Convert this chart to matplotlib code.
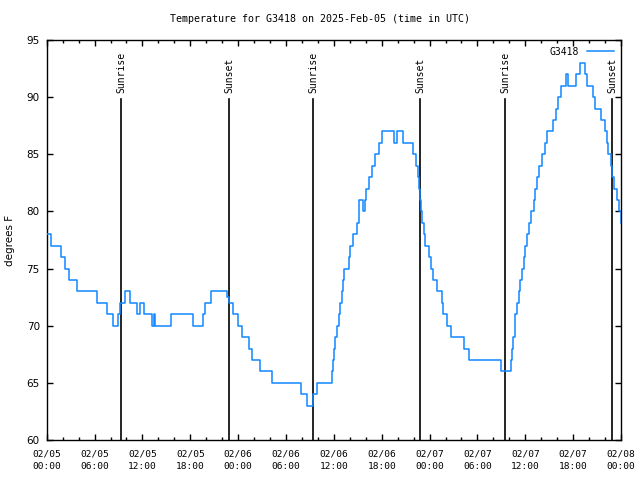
import matplotlib
matplotlib.use("Agg")
import matplotlib.pyplot as plt
from matplotlib.ticker import FixedLocator, MultipleLocator

# ---- data (hours since 2025-02-05 00:00 UTC, temperature in F) ----
hours = [0.0, 0.55, 1.75, 2.3, 2.8, 3.8, 6.3, 7.6, 8.3, 8.9, 9.25, 9.8, 10.5,
         11.3, 11.7, 12.2, 13.2, 13.4, 13.6, 15.6, 18.4, 19.6, 19.9, 20.6,
         22.6, 22.9, 23.3, 24.0, 24.5, 25.4, 25.7, 26.8, 28.2, 31.9, 32.6,
         33.4, 33.9, 35.8, 35.95, 36.05, 36.17, 36.39, 36.6, 36.8, 37.0, 37.15,
         37.3, 37.84, 38.06, 38.35, 38.9, 39.1, 39.2, 39.6, 39.85, 40.06, 40.4,
         40.8, 41.2, 41.6, 41.98, 43.6, 43.9, 44.7, 45.9, 46.3, 46.5, 46.7,
         46.84, 46.93, 47.05, 47.25, 47.46, 47.88, 48.2, 48.4, 48.9, 49.5,
         49.7, 50.2, 50.7, 52.3, 52.9, 57.0, 58.25, 58.35, 58.5, 58.65, 58.76,
         58.97, 59.17, 59.4, 59.6, 59.8, 60.0, 60.2, 60.5, 60.77, 61.05, 61.27,
         61.5, 61.7, 62.1, 62.5, 62.7, 63.5, 63.9, 64.1, 64.5, 65.15, 65.4,
         66.3, 66.8, 67.45, 67.75, 68.46, 68.8, 69.55, 70.05, 70.2, 70.4, 70.7,
         70.9, 71.15, 71.5, 71.8, 72.0]
temps = [78, 77, 76, 75, 74, 73, 72, 71, 70, 71, 72, 73, 72,
         71, 72, 71, 70, 71, 70, 71, 70, 71, 72, 73,
         72.5, 72, 71, 70, 69, 68, 67, 66, 65, 64, 63,
         64, 65, 66, 67, 68, 69, 70, 71, 72, 73, 74,
         75, 76, 77, 78, 79, 80, 81, 80, 81, 82, 83,
         84, 85, 86, 87, 86, 87, 86, 85, 84, 83, 82,
         81, 80, 79, 78, 77, 76, 75, 74, 73, 72,
         71, 70, 69, 68, 67, 66, 67, 68, 69, 70, 71,
         72, 73, 74, 75, 76, 77, 78, 79, 80, 81, 82,
         83, 84, 85, 86, 87, 88, 89, 90, 91, 92, 91,
         92, 93, 92, 91, 90, 89, 88, 87, 86, 85, 84,
         83, 82, 81, 80, 79]

sunrise_hours = [9.33, 33.42, 57.5]
sunset_hours = [22.9, 46.85, 70.9]

xtick_hours = [0, 6, 12, 18, 24, 30, 36, 42, 48, 54, 60, 66, 72]
xtick_labels = ["02/05\n00:00", "02/05\n06:00", "02/05\n12:00", "02/05\n18:00",
                "02/06\n00:00", "02/06\n06:00", "02/06\n12:00", "02/06\n18:00",
                "02/07\n00:00", "02/07\n06:00", "02/07\n12:00", "02/07\n18:00",
                "02/08\n00:00"]

title = "Temperature for G3418 on 2025-Feb-05 (time in UTC)"
series_name = "G3418"

mono = "DejaVu Sans Mono"
sans = "DejaVu Sans"

fig = plt.figure(figsize=(6.4, 4.8), dpi=100)
ax = fig.add_axes([46.7 / 640, 40 / 480, (621 - 46.7) / 640, 400 / 480])

ax.plot(hours, temps, drawstyle="steps-post", color="#0f88ff", lw=1.1,
        label=series_name, zorder=3)

for h in sunrise_hours:
    ax.plot([h, h], [60, 89.8], color="black", lw=1.2, zorder=2)
    ax.text(h, 90.4, "Sunrise", rotation=90, ha="center", va="bottom",
            family=mono, fontsize=7)
for h in sunset_hours:
    ax.plot([h, h], [60, 89.8], color="black", lw=1.2, zorder=2)
    ax.text(h, 90.4, "Sunset", rotation=90, ha="center", va="bottom",
            family=mono, fontsize=7)

ax.set_xlim(0, 72)
ax.set_ylim(60, 95)

ax.xaxis.set_major_locator(FixedLocator(xtick_hours))
ax.set_xticklabels(xtick_labels, family=mono, fontsize=6.8)
for lbl in ax.get_xticklabels():
    lbl.set_linespacing(1.45)
ax.xaxis.set_minor_locator(MultipleLocator(2))
ax.yaxis.set_major_locator(MultipleLocator(5))
for lbl in ax.get_yticklabels():
    lbl.set_family(sans)
    lbl.set_fontsize(7.5)

ax.tick_params(which="major", direction="in", length=4, width=1,
               top=True, right=True, pad=5)
ax.tick_params(which="minor", direction="in", length=2, width=1,
               top=True, right=True)
ax.tick_params(axis="x", pad=7)

for s in ax.spines.values():
    s.set_linewidth(1.0)

ax.set_ylabel("degrees F", family=sans, fontsize=7.5)
ax.yaxis.set_label_coords((15 - 46.7) / 574.3, 0.5)
fig.suptitle(title, family=mono, fontsize=7.2, y=1 - 19 / 480, va="center")

leg = ax.legend(loc="upper right", frameon=False, prop={"family": mono, "size": 7},
                handlelength=2.8, markerfirst=False, borderaxespad=0.3,
                handletextpad=0.8)

fig.savefig("out.png", dpi=100)
